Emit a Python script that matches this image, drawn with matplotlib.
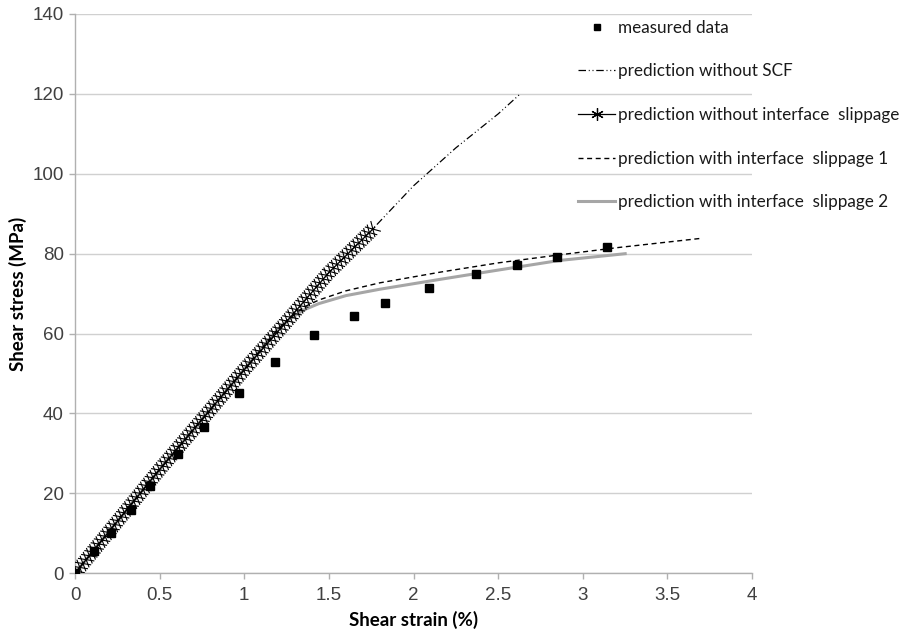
import matplotlib
matplotlib.use("Agg")
import matplotlib.pyplot as plt
import matplotlib.patheffects as pe
from matplotlib.lines import Line2D

# measured points
strain_meas = [0, 0.11, 0.21, 0.33, 0.44, 0.61, 0.76, 0.97, 1.18, 1.41,
               1.65, 1.83, 2.09, 2.37, 2.61, 2.85, 3.14]
stress_meas = [0, 5.5, 10.2, 15.8, 21.8, 29.8, 36.6, 45.1, 52.8, 59.6,
               64.4, 67.6, 71.4, 74.8, 77.1, 79.2, 81.7]

# prediction without SCF
strain_scf = [0, 0.25, 0.5, 0.75, 1.0, 1.25, 1.5, 1.75, 2.0, 2.25, 2.5, 2.63]
stress_scf = [0, 13, 26, 38.5, 51, 63, 75.3, 85.8, 97, 106.5, 115, 120]

# prediction without interface slippage
strain_noslip = [0, 0.25, 0.5, 0.75, 1.0, 1.25, 1.5, 1.77]
stress_noslip = [0, 13, 26, 38.5, 51, 63, 75.3, 86.6]

# prediction with interface slippage 1
strain_slip1 = [0, 0.25, 0.5, 0.75, 1.0, 1.2, 1.27, 1.35, 1.44, 1.6, 1.8, 2.16, 2.5, 2.86, 3.2, 3.69]
stress_slip1 = [0, 13, 26, 38.5, 51, 61.2, 63.9, 66.6, 68.4, 70.7, 72.7, 75.4, 77.7, 79.7, 81.5, 83.8]

# prediction with interface slippage 2
strain_slip2 = [0, 0.25, 0.5, 0.75, 1.0, 1.2, 1.27, 1.35, 1.44, 1.6, 1.8, 2.16, 2.5, 2.86, 3.25]
stress_slip2 = [0, 13, 26, 38.5, 51, 61.2, 63.7, 65.9, 67.5, 69.5, 71.1, 73.6, 75.9, 78.3, 80.0]

labels = ["measured data",
          "prediction without SCF",
          "prediction without interface  slippage",
          "prediction with interface  slippage 1",
          "prediction with interface  slippage 2"]

tick_font = ["Liberation Sans Narrow", "Liberation Sans", "DejaVu Sans"]
label_font = ["Lato", "DejaVu Sans"]

scf_style = (0, (6, 2.2, 0.8, 2.2, 0.8, 2.2))
dash_style = (0, (3.6, 2.6))

fig = plt.figure(figsize=(9.15, 6.36), dpi=100)
ax = fig.add_axes([0.082, 0.0986, 0.74, 0.8794])

ax.plot(strain_slip2, stress_slip2, color="#a6a6a6", lw=2.2, zorder=2)
ax.plot(strain_slip1, stress_slip1, color="black", lw=1.0, linestyle=dash_style, zorder=3)
ax.plot(strain_scf, stress_scf, color="black", lw=0.9, linestyle=scf_style, zorder=3)

# dense star markers drawn as ticks along the line
ticks = [pe.TickedStroke(spacing=3.6, angle=a, length=1.55, linewidth=0.8)
         for a in (60, -120, 120, -60)]
ax.plot(strain_noslip, stress_noslip, color="black", lw=0.9, zorder=4,
        path_effects=[pe.Normal()] + ticks)

ax.plot(strain_meas, stress_meas, ls="none", marker="s", ms=5.5, color="black", zorder=5)

ax.set_xlim(0, 4)
ax.set_ylim(0, 140)
ax.set_xticks([0, 0.5, 1, 1.5, 2, 2.5, 3, 3.5, 4])
ax.set_xticklabels(["0", "0.5", "1", "1.5", "2", "2.5", "3", "3.5", "4"])
ax.set_yticks(range(0, 141, 20))

ax.grid(axis="y", color="#d0d0d0", lw=1.0)
ax.set_axisbelow(True)
for s in ["top", "right"]:
    ax.spines[s].set_visible(False)
for s in ["left", "bottom"]:
    ax.spines[s].set_color("#b0b0b0")
    ax.spines[s].set_linewidth(1.0)
ax.tick_params(axis="both", color="#b0b0b0", length=4, width=1.0,
               labelcolor="#404040", labelsize=13.5)
for t in ax.get_xticklabels() + ax.get_yticklabels():
    t.set_family(tick_font)
ax.tick_params(axis="x", pad=6)
ax.tick_params(axis="y", pad=4)

ax.set_xlabel("Shear strain (%)", family=label_font, fontweight="bold", fontsize=13.5, labelpad=5)
ax.set_ylabel("Shear stress (MPa)", family=label_font, fontweight="bold", fontsize=13.5, labelpad=4)

handles = [
    Line2D([], [], ls="none", marker="s", ms=5, color="black"),
    Line2D([], [], color="black", lw=0.9, linestyle=scf_style),
    Line2D([], [], color="black", lw=0.9, marker=(6, 2, 0), ms=9, mew=0.9),
    Line2D([], [], color="black", lw=1.0, linestyle=dash_style),
    Line2D([], [], color="#a6a6a6", lw=2.2),
]
leg = fig.legend(handles, labels, loc="upper left", bbox_to_anchor=(0.632, 0.969),
                 frameon=False, prop={"family": label_font, "size": 12.3},
                 borderpad=0, borderaxespad=0,
                 handlelength=2.15, handletextpad=0.2, labelspacing=1.62, numpoints=1)
for t in leg.get_texts():
    t.set_color("#1a1a1a")

fig.savefig("out.png", dpi=100)
